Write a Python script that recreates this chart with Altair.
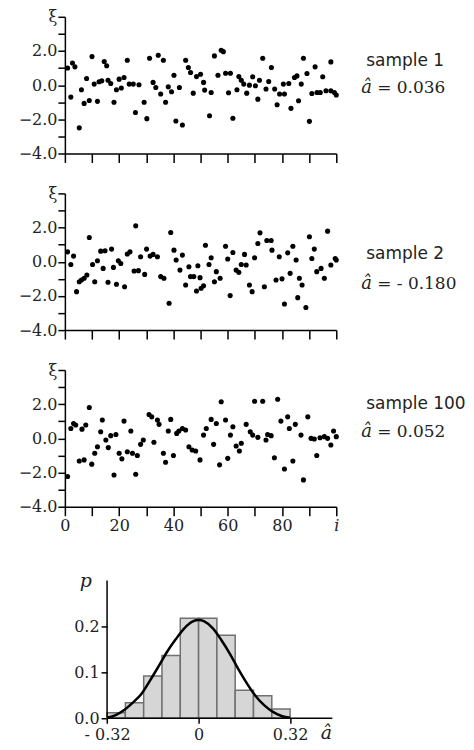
import altair as alt
import pandas as pd

SERIF = "DejaVu Serif"
SANS = "DejaVu Sans"

# ---------------- data ----------------
s1_i = [1, 2.2, 2.8, 3.7, 5.3, 6.1, 7.1, 8, 9, 10, 10.8, 12, 12.6, 13.6, 14.5, 15.4, 15.9, 16.9, 18.1, 19,
        20, 20.8, 21.8, 23, 23.7, 25.2, 26, 27.3, 29.2, 30.2, 31.2, 32.5, 33.5, 34.4, 35.3, 36.3, 37.1, 38.1,
        39.3, 40.2, 40.9, 42.2, 43.3, 44.5, 45.5, 46.3, 47.3, 48.5, 50, 51.1, 51.5, 53.9, 53.3, 55.1, 56.4,
        57.6, 58.4, 59.2, 60.3, 61, 61.9, 63.4, 64.1, 65, 65.9, 67, 68, 69.2, 70.2, 71.1, 71.7, 72.9, 74.1,
        75.1, 76.1, 77.3, 78.2, 79.1, 80.5, 80.9, 82.5, 83.3, 84.6, 85.5, 86.1, 87.1, 87.9, 89.2, 90.1, 91,
        92.2, 92.9, 94.1, 95, 96.2, 98, 98, 99.3, 100]
s1_xi = [1.0, -0.7, 1.3, 1.07, -2.5, -0.27, -1.07, 0.39, -0.9, 1.67,
         0.06, -0.95, 0.2, 0.25, 1.38, 1.13, 0.29, 0.1, -1.0, -0.27,
         0.35, -0.17, 0.45, 1.46, 0.06, 0.06, -1.6, 0.02, -1.0, -1.96,
         1.57, 0.16, -0.14, 1.75, -0.52, 1.46, -1.0, -0.1, -0.39, 0.58,
         -2.1, -0.14, -2.33, 1.46, 1.03, 0.74, -0.47, 0.5, 0.64,
         0.16, -0.29, -0.43, -1.79, 1.71, 0.58, 2.04, 1.96, 0.7, -0.45,
         0.7, -1.94, -0.27, 0.5, 0.29, 0.06, -0.47, 0.0, 0.49, -0.04,
         -0.82, 0.29, 1.57, -0.23, 0.21, 1.03, -0.23, -1.15, -0.52, 0.06,
         -0.52, 0.1, -1.36, 0.45, 0.54, -0.91, 0.06, 1.57, 0.68, -2.12,
         -0.49, 1.07, -0.43, -0.43, 0.49, -0.33, 1.36, -0.33, -0.43, -0.58]

s2_i = [1, 2.2, 3.2, 4.3, 5.3, 6.1, 7.1, 8.1, 9, 10.2, 11, 12, 13.2, 14.1, 14.8, 15.9, 17.2, 17.9, 19, 19.7,
        20.6, 22, 23, 24, 26.1, 25.5, 27.1, 27.9, 29.4, 30.1, 31.4, 32.5, 34.1, 35.3, 36.5, 38.4, 39, 40.2,
        41, 42.4, 43.3, 44.5, 45.7, 46.3, 47.5, 48.5, 49.8, 50.2,
        49, 51.1, 51.8, 53.1, 53.9, 55.8, 55.1, 57.2, 59.2, 60, 60.9, 61.9, 63.1, 64.1, 65, 66.2, 66.8, 68,
        69, 69.9, 71.1, 71.9, 73.5, 74.4, 76, 76.3, 77.8, 79, 80, 80.9, 82.1, 83, 84, 85.2, 85.8, 86.4, 87.4,
        88.8, 90.1, 91, 91.9, 92.8, 94.4, 95.6, 96.8, 98, 99.6, 100]
s2_xi = [0.58, -0.16, 0.33, -1.75, -1.17, -1.07, -0.97, -0.78, 1.42, -0.16,
         -1.17, 0.06, 0.62, -0.39, 0.64, -1.2, 0.74, -0.33, -1.32, 0.06,
         -0.1, -1.46, 0.45, 0.58, 2.1, -0.54, -0.52, 0.29, -0.74, 0.74,
         0.33, 0.43, 0.29, -0.87, -0.97, -2.43, 1.71, 0.68, 0.1, -0.49,
         0.39, -1.36, -0.29, -0.87, -0.87, -1.71, -0.93, -1.55,
         -0.23, -1.4, 0.97, -0.16, 0.23, -0.58, -1.17, -0.97, 0.91, 0.16,
         -1.98, 0.54, -0.49, -0.62, -0.16, 0.43, -0.19, -1.36, -1.75, 0.23,
         1.07, 1.69, -1.46, 1.24, 1.24, 0.68, -1.07, 0.29, -1.0, -2.47,
         0.52, -0.68, 0.91, 0.1, -2.1, -0.97, -1.36, -2.68, 1.46, 0.19,
         0.74, -0.58, -0.39, -0.97, 1.79, -0.19, 0.19, 0.1]

s3_i = [1, 2.2, 3.2, 4, 5.3, 6.3, 7.1, 7.7, 9, 9.9, 11, 12, 13.2, 13.8, 15.1, 16, 16.9, 18.1, 18.8, 20,
        21, 21.8, 23, 24.3, 24.9, 26.1, 26.7, 27.9, 28.9, 31, 32, 32.8, 34.1, 34.7, 36.3, 37.1, 38.1, 39,
        40, 41.2, 42, 43.3, 44.5, 45.7, 46.9, 48.2, 49.8,
        51.1, 52.1, 53.9, 54.8, 55.8, 57, 57.6, 59.2, 60, 61, 61.9, 63.1, 64.3, 65, 66.8, 68.3, 69.2, 69.9,
        71.1, 72.9, 74.1, 74.7, 76, 77.2, 78.4, 79.6, 80.9, 82.1, 82.7, 84, 84.9, 87, 87.9, 89.5, 90.7,
        91.9, 92.8, 94, 95.6, 96.8, 98, 99, 100]
s3_xi = [-2.23, 0.58, 0.87, 0.78, -1.32, 0.54, -1.26, 0.78, 1.81, -1.51,
         -0.87, -0.49, 0.39, 1.07, -0.1, -0.54, 0.16, -2.14, 0.23, -0.87,
         -1.2, 1.01, -0.78, 0.43, -0.87, -2.1, -1.0, -0.35, -0.1, 1.4,
         1.26, -0.23, 1.07, 0.82, -0.87, -1.4, 0.43, 1.11, -1.0, 0.29,
         0.43, 0.58, 0.49, -0.49, -0.68, -0.74, -1.26,
         0.19, 0.58, 1.11, -0.35, 0.87, -1.55, 2.14, 1.07, -1.17, 0.19,
         0.68, -0.45, -0.74, -0.29, 0.82, 0.39, 0.19, 2.17, 0.06, 2.17,
         -0.1, 0.23, 0.16, -1.13, 2.29, 1.01, -1.79, 1.26, 0.58, -1.32,
         0.82, 0.19, -2.43, 1.26, 0.0, -0.04, -1.0, 0.04, 0.1, 0.0,
         -0.39, 0.43, 0.1]

sample_names = ["sample 1", "sample 2", "sample 100"]
a_hat_values = ["= 0.036", "= - 0.180", "= 0.052"]

bin_edges = [-0.32, -0.256, -0.192, -0.128, -0.064, 0.0, 0.064, 0.128, 0.192, 0.256, 0.32]
bin_p = [0.012, 0.034, 0.092, 0.137, 0.218, 0.218, 0.181, 0.061, 0.049, 0.02]

curve_a = [-0.32, -0.29, -0.26, -0.23, -0.20, -0.17, -0.14, -0.11, -0.08, -0.05, -0.02, 0.0,
           0.02, 0.05, 0.08, 0.11, 0.14, 0.17, 0.20, 0.23, 0.26, 0.29, 0.32]
curve_p = [0.001, 0.007, 0.018, 0.034, 0.053, 0.082, 0.113, 0.145, 0.172, 0.196, 0.211, 0.214,
           0.211, 0.196, 0.17, 0.14, 0.106, 0.075, 0.048, 0.028, 0.014, 0.005, 0.001]

hist_xticks = [-0.32, 0.0, 0.32]
hist_yticks = [0.0, 0.1, 0.2]

# ---------------- layout constants ----------------
PW, PH = 272, 137
sample_y = [49, 66, 39]
ahat_y = [76, 96, 67]


def scatter_panel(iv, xv, k, bottom):
    df = pd.DataFrame({"i": iv, "xi": xv})
    if bottom:
        xaxis = alt.Axis(values=list(range(0, 101, 10)), tickSize=9, title=None, labelOverlap=False,
                         labelFlush=False, labelPadding=2,
                         labelExpr="datum.value == 100 ? 'i' : (datum.value % 20 == 0 ? datum.label : '')",
                         labelFontStyle={"condition": {"test": "datum.value == 100", "value": "italic"},
                                         "value": "normal"})
    else:
        xaxis = alt.Axis(values=list(range(0, 101, 10)), tickSize=9, title=None, labels=False)
    yaxis = alt.Axis(values=list(range(-4, 5)), tickSize=7, title=None, labelOverlap=False,
                     labelFlush=False, labelPadding=1,
                     labelExpr="datum.value == 4 ? 'ξ' : (datum.value % 2 == 0 ? format(datum.value, '.1f') : '')")
    pts = alt.Chart(df).mark_circle(size=26, color="black", opacity=1).encode(
        x=alt.X("i:Q", scale=alt.Scale(domain=[0, 100], nice=False, zero=False), axis=xaxis),
        y=alt.Y("xi:Q", scale=alt.Scale(domain=[-4, 4], nice=False), axis=yaxis),
    )
    tdf = pd.DataFrame({"s": [sample_names[k]], "a": [a_hat_values[k]], "h": ["â"]})
    t1 = alt.Chart(tdf).mark_text(align="left", baseline="alphabetic", font=SANS, fontSize=17,
                                  color="#222").encode(
        x=alt.value(302), y=alt.value(sample_y[k]), text="s:N")
    t2 = alt.Chart(tdf).mark_text(align="left", baseline="alphabetic", font=SERIF, fontSize=18,
                                  fontStyle="italic", color="#222").encode(
        x=alt.value(297), y=alt.value(ahat_y[k]), text="h:N")
    t3 = alt.Chart(tdf).mark_text(align="left", baseline="alphabetic", font=SERIF, fontSize=17,
                                  color="#222").encode(
        x=alt.value(313), y=alt.value(ahat_y[k]), text="a:N")
    return alt.layer(pts, t1, t2, t3).properties(width=PW, height=PH)


p1 = scatter_panel(s1_i, s1_xi, 0, False)
p2 = scatter_panel(s2_i, s2_xi, 1, False)
p3 = scatter_panel(s3_i, s3_xi, 2, True)

# ---------------- histogram ----------------
XD = [-0.4675, 0.4675]
YD = [0, 0.374]
bars_df = pd.DataFrame({"lo": bin_edges[:-1], "hi": bin_edges[1:], "p": bin_p,
                        "base": [0.0] * len(bin_p)})
curve_df = pd.DataFrame({"a": curve_a, "p": curve_p})

hx_axis = alt.Axis(values=hist_xticks, tickSize=5, title=None, domain=False, labelFlush=False,
                   labelOverlap=False, labelPadding=3,
                   labelExpr="datum.value < 0 ? '- 0.32' : (datum.value == 0 ? '0' : '0.32')")
hy_axis = alt.Axis(values=hist_yticks, tickSize=6, title=None, domain=False, format=".1f",
                   labelOverlap=False, labelPadding=2, offset=-42.3)

xs = alt.Scale(domain=XD, nice=False, zero=False)
ys = alt.Scale(domain=YD, nice=False)

bars = alt.Chart(bars_df).mark_rect(fill="#d6d6d6", stroke="#707070", strokeWidth=1.5).encode(
    x=alt.X("lo:Q", scale=xs, axis=hx_axis),
    x2="hi:Q",
    y=alt.Y("p:Q", scale=ys, axis=hy_axis),
    y2="base:Q",
)
curve = alt.Chart(curve_df).mark_line(color="black", strokeWidth=2.5, interpolate="monotone").encode(
    x=alt.X("a:Q", scale=xs, axis=hx_axis),
    y=alt.Y("p:Q", scale=ys, axis=hy_axis),
)
axes_df = pd.DataFrame({"x": [-0.32, -0.32], "x2": [-0.32, XD[1]], "y": [0.0, 0.0], "y2": [0.3, 0.0]})
axes_lines = alt.Chart(axes_df).mark_rule(color="black", strokeWidth=1.5).encode(
    x=alt.X("x:Q", scale=xs, axis=hx_axis), x2="x2:Q",
    y=alt.Y("y:Q", scale=ys, axis=hy_axis), y2="y2:Q",
)
lab_df = pd.DataFrame({"p": ["p"], "a": ["â"]})
p_lab = alt.Chart(lab_df).mark_text(font=SERIF, fontSize=19, fontStyle="italic", align="center",
                                    baseline="alphabetic", color="#222").encode(
    x=alt.value(21), y=alt.value(40), text="p:N")
a_lab = alt.Chart(lab_df).mark_text(font=SERIF, fontSize=19, fontStyle="italic", align="center",
                                    baseline="alphabetic", color="#222").encode(
    x=alt.value(262), y=alt.value(193), text="a:N")

hist = alt.layer(bars, curve, axes_lines, p_lab, a_lab).properties(width=268, height=172)

chart = alt.vconcat(p1, p2, p3, hist, spacing=40, bounds="flush").properties(
    padding={"left": 10, "top": 0, "right": 0, "bottom": 0}
).configure_view(stroke=None).configure_axis(
    domainColor="black", tickColor="black", domainWidth=1.5, tickWidth=1.5,
    labelColor="#222", labelFont=SERIF, labelFontSize=16, grid=False,
)

chart.save("out.html", embed_options={"renderer": "svg", "actions": False})
